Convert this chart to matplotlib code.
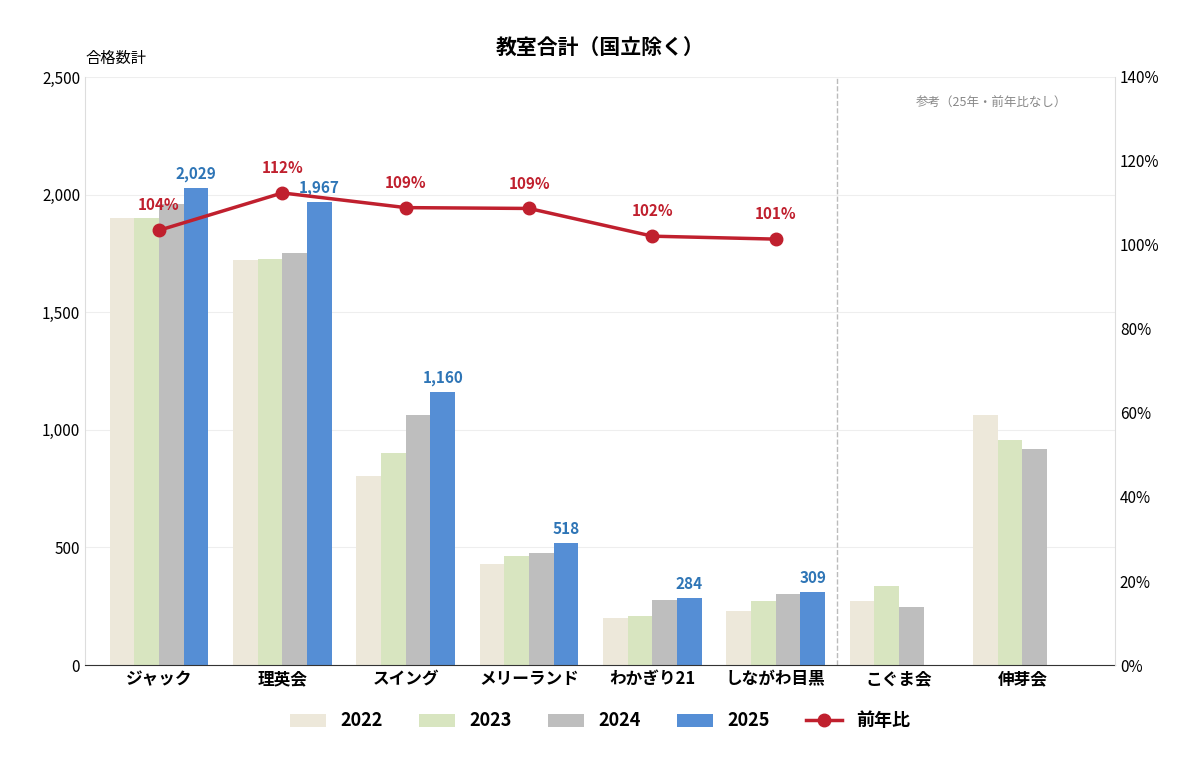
import matplotlib
matplotlib.use("Agg")
import matplotlib.pyplot as plt
import numpy as np

plt.rcParams['font.family'] = ['Noto Sans CJK JP', 'DejaVu Sans']

# data
schools = ['ジャック', '理英会', 'スイング', 'メリーランド', 'わかぎり21', 'しながわ目黒', 'こぐま会', '伸芽会']
v2022 = [1900, 1720, 805, 430, 200, 230, 270, 1065]
v2023 = [1900, 1725, 900, 465, 210, 270, 335, 955]
v2024 = [1960, 1750, 1065, 475, 278, 303, 245, 920]
v2025 = [2029, 1967, 1160, 518, 284, 309]
yoy = [103.5, 112.4, 108.9, 108.7, 102.1, 101.4]

colors = ['#ede8da', '#d8e5c0', '#bebebe', '#558ed5']
line_color = '#c0202e'

fig = plt.figure(figsize=(12, 7.64), dpi=100)
ax = fig.add_axes([85/1200, 1-665/764, 1030/1200, 588/764])
x = np.arange(len(schools))
w = 0.2

for k, (vals, lab) in enumerate(zip([v2022, v2023, v2024, v2025], ['2022', '2023', '2024', '2025'])):
    xs = x[:len(vals)] + (k - 1.5) * w
    ax.bar(xs, vals, w, color=colors[k], label=lab, zorder=2)

for i, v in enumerate(v2025):
    ax.text(x[i] + 1.5 * w, v + 25, f'{v:,}', ha='center', va='bottom',
            color='#2e75b6', fontsize=11, fontweight='bold')

ax.set_ylim(0, 2500)
ax.set_xlim(-0.6, 7.75)
ax.set_yticks(range(0, 2501, 500))
ax.set_yticklabels([f'{t:,}' for t in range(0, 2501, 500)], fontsize=11)
ax.set_xticks(x)
ax.set_xticklabels(schools, fontsize=12, fontweight='bold')
ax.tick_params(length=0)
ax.grid(axis='y', color='#eeeeee', zorder=0)
for s in ['top', 'right']:
    ax.spines[s].set_visible(False)
ax.spines['left'].set_color('#dddddd')
ax.spines['bottom'].set_color('#333333')
ax.axvline(5.5, color='#bbbbbb', linestyle='--', linewidth=1)
ax.text(6.75, 2390, '参考（25年・前年比なし）', ha='center', va='center', fontsize=9, color='#888888')

ax2 = ax.twinx()
ax2.set_ylim(0, 140)
ax2.set_yticks(range(0, 141, 20))
ax2.set_yticklabels([f'{t}%' for t in range(0, 141, 20)], fontsize=11)
ax2.tick_params(length=0)
for s in ['top', 'left', 'bottom']:
    ax2.spines[s].set_visible(False)
ax2.spines['right'].set_color('#dddddd')
ax2.plot(x[:len(yoy)], yoy, color=line_color, linewidth=2.5, marker='o', markersize=9, label='前年比', zorder=5)
for i, v in enumerate(yoy):
    ax2.text(x[i], v + 4, f'{round(v)}%', ha='center', va='bottom', color=line_color,
             fontsize=11, fontweight='bold')

fig.text(85/1200, 1-58/764, '合格数計', fontsize=11, va='center')
fig.text(0.5, 1-48/764, '教室合計（国立除く）', fontsize=15, fontweight='bold', ha='center', va='center')

h1, l1 = ax.get_legend_handles_labels()
h2, l2 = ax2.get_legend_handles_labels()
leg = fig.legend(h1 + h2, l1 + l2, loc='center', bbox_to_anchor=(0.5, 1-721/764), ncol=5,
                 frameon=False, prop={'size': 13, 'weight': 'bold'}, handlelength=2, columnspacing=2)

fig.savefig('out.png', dpi=100)
